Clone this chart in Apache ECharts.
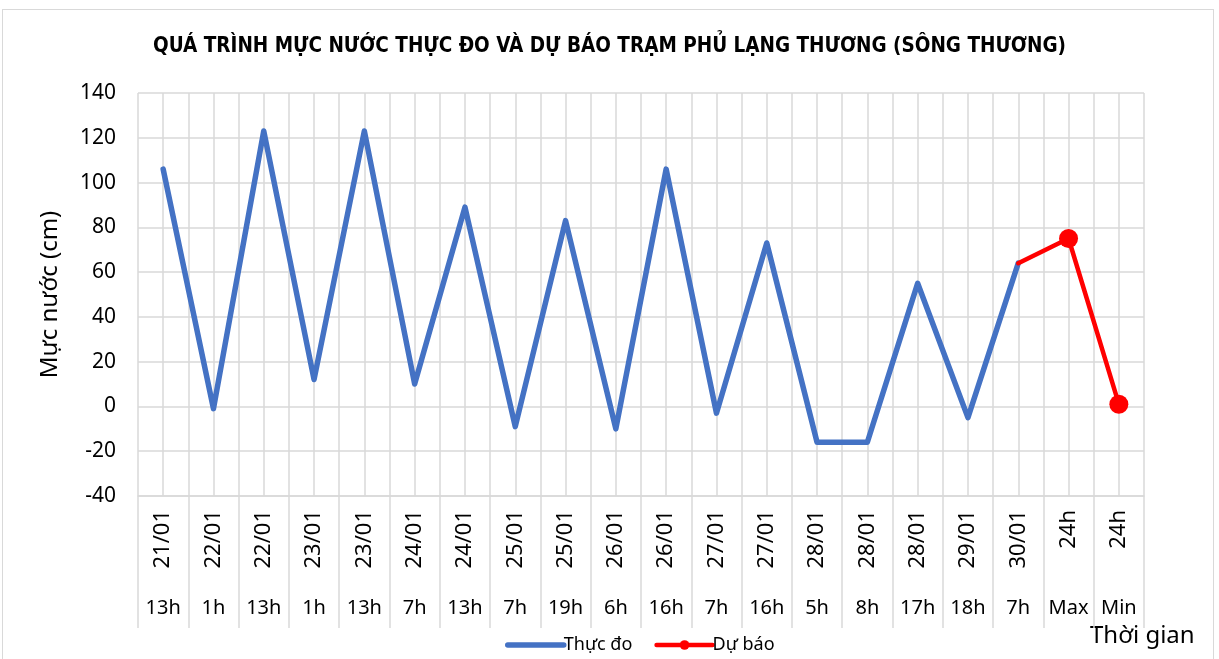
<!DOCTYPE html>
<html>
<head>
<meta charset="utf-8">
<script src="https://cdn.jsdelivr.net/npm/echarts@6/dist/echarts.min.js"></script>
<style>
  html, body { margin: 0; padding: 0; background: #fff; }
  #frame { position: absolute; left: 2px; top: 9px; width: 1212px; height: 660px; border: 1px solid #d9d9d9; box-sizing: border-box; }
  #chart { position: absolute; left: 0; top: 0; width: 1219px; height: 659px; }
</style>
</head>
<body>
<div id="frame"></div>
<div id="chart"></div>
<script>
// dữ liệu
const dateLabels = ['21/01', '22/01', '22/01', '23/01', '23/01', '24/01', '24/01', '25/01', '25/01', '26/01',
  '26/01', '27/01', '27/01', '28/01', '28/01', '28/01', '29/01', '30/01', '24h', '24h']
const hourLabels = ['13h', '1h', '13h', '1h', '13h', '7h', '13h', '7h', '19h', '6h',
  '16h', '7h', '16h', '5h', '8h', '17h', '18h', '7h', 'Max', 'Min']
const thucDo = [106, -1, 123, 12, 123, 10, 89, -9, 83, -10, 106, -3, 73, -16, -16, 55, -5, 64, null, null]
const duBao = [null, null, null, null, null, null, null, null, null, null,
  null, null, null, null, null, null, null, 64, 75, 1]
const yTicks = { min: -40, max: 140, interval: 20 }

const FONT = 'Noto Sans'
const GRID_COLOR = '#d9d9d9'

const chart = echarts.init(document.getElementById('chart'))

const forecastData = duBao.map((v, i) => {
  if (v == null) return v
  if (hourLabels[i] === 'Max' || hourLabels[i] === 'Min') return { value: v, symbolSize: 19 }
  return { value: v, symbol: 'none' }
})

chart.setOption({
  animation: false,
  title: {
    text: 'QUÁ TRÌNH MỰC NƯỚC THỰC ĐO VÀ DỰ BÁO TRẠM PHỦ LẠNG THƯƠNG (SÔNG THƯƠNG)',
    left: 'center',
    top: 31,
    textStyle: { fontFamily: '"DejaVu Sans Condensed", "Noto Sans"', fontWeight: 'bold', fontSize: 20.5, color: '#000' },
  },
  legend: {
    left: 500,
    top: 631,
    itemWidth: 56,
    itemHeight: 12,
    itemGap: 22,
    textStyle: { fontFamily: FONT, fontSize: 18, color: '#000', padding: [0, 0, 0, -5] },
    data: [
      { name: 'Thực đo', itemStyle: { opacity: 0 }, lineStyle: { width: 5.5, cap: 'round' } },
      { name: 'Dự báo', lineStyle: { width: 4.5, cap: 'round' } },
    ],
  },
  graphic: [{
    type: 'text',
    left: 1090,
    top: 624,
    style: { text: 'Thời gian', font: `24px "${FONT}"`, fill: '#000' },
  }],
  grid: { left: 138, right: 75, top: 93, bottom: 163, containLabel: false },
  xAxis: [
    {
      type: 'category',
      data: dateLabels,
      position: 'bottom',
      boundaryGap: true,
      axisLine: { onZero: false, lineStyle: { color: GRID_COLOR, width: 1.5 } },
      axisTick: { show: true, interval: 0, length: 132, lineStyle: { color: GRID_COLOR, width: 1.5 } },
      axisLabel: { interval: 0, rotate: 90, margin: 14, fontFamily: FONT, fontSize: 22, color: '#000' },
      splitLine: { show: false },
    },
    {
      type: 'category',
      data: hourLabels,
      position: 'bottom',
      boundaryGap: true,
      axisLine: { show: false, onZero: false },
      axisTick: { show: false },
      axisLabel: { interval: 0, margin: 102, fontFamily: FONT, fontSize: 20, color: '#000' },
      splitLine: { show: false },
    },
    {
      // lưới dọc mỗi nửa ô
      type: 'value',
      position: 'top',
      min: 0,
      max: hourLabels.length * 2,
      interval: 1,
      axisLine: { show: false },
      axisTick: { show: false },
      axisLabel: { show: false },
      splitLine: { show: true, lineStyle: { color: GRID_COLOR, width: 1.5 } },
    },
  ],
  yAxis: {
    type: 'value',
    min: yTicks.min,
    max: yTicks.max,
    interval: yTicks.interval,
    name: 'Mực nước (cm)',
    nameLocation: 'middle',
    nameGap: 76,
    nameTextStyle: { fontFamily: FONT, fontSize: 24, color: '#000' },
    axisLine: { show: false },
    axisTick: { show: false },
    axisLabel: { margin: 22, fontFamily: FONT, fontSize: 21, color: '#000' },
    splitLine: { lineStyle: { color: GRID_COLOR, width: 1.5 } },
  },
  series: [
    {
      name: 'Thực đo',
      type: 'line',
      xAxisIndex: 0,
      data: thucDo,
      symbol: 'none',
      itemStyle: { color: '#4472c4' },
      lineStyle: { color: '#4472c4', width: 5.5, cap: 'round', join: 'round' },
      z: 3,
    },
    {
      name: 'Dự báo',
      type: 'line',
      xAxisIndex: 0,
      data: forecastData,
      symbol: 'circle',
      symbolSize: 9,
      itemStyle: { color: '#ff0000' },
      lineStyle: { color: '#ff0000', width: 4.5, cap: 'round', join: 'round' },
      z: 4,
    },
  ],
})
</script>
</body>
</html>
